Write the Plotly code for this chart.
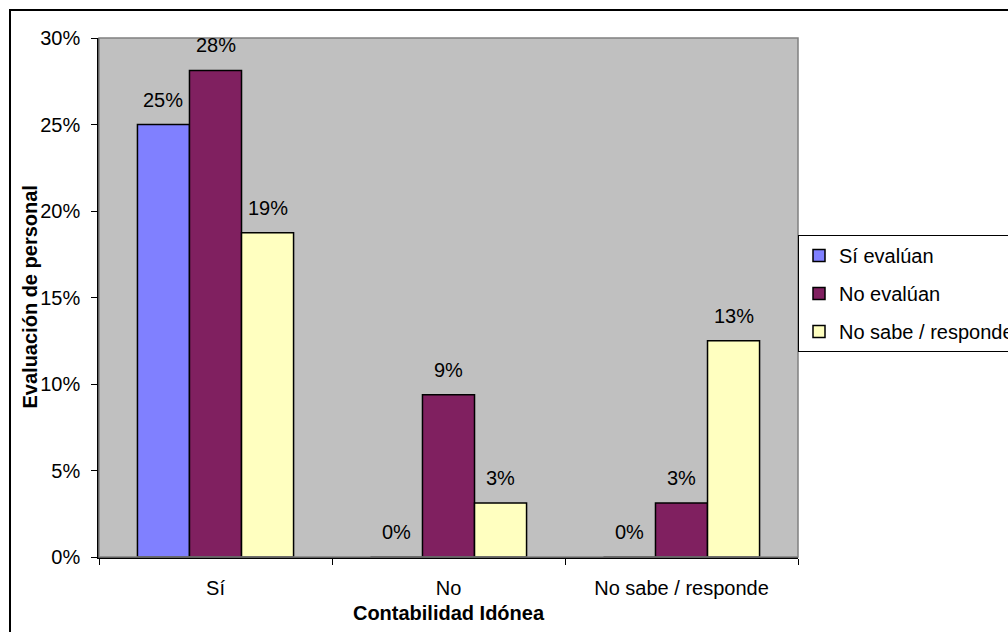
import plotly.graph_objects as go

# Survey shares per answer group
categories = ["Sí", "No", "No sabe / responde"]
series_names = ["Sí evalúan", "No evalúan", "No sabe / responde"]
si_evaluan = [0.25, 0.0, 0.0]
no_evaluan = [0.28125, 0.09375, 0.03125]
no_sabe = [0.1875, 0.03125, 0.125]
y_ticks = [0.0, 0.05, 0.10, 0.15, 0.20, 0.25, 0.30]
y_tick_labels = ["0%", "5%", "10%", "15%", "20%", "25%", "30%"]

series_values = [si_evaluan, no_evaluan, no_sabe]
colors = ["#8080FF", "#802060", "#FFFFC0"]

FONT = "Liberation Sans, Arial, sans-serif"
W, H = 1008, 632
M_L, M_R, M_T, M_B = 99, 210, 38, 75
BARGAP = 0.33

plot_w = W - M_L - M_R
plot_h = H - M_T - M_B


def pct_label(v):
    # percentage rounded half up, as spreadsheet labels do
    return f"{int(v * 100 + 0.5)}%"


fig = go.Figure()
for i, (name, vals, col) in enumerate(zip(series_names, series_values, colors)):
    fig.add_trace(go.Bar(
        name=name,
        x=categories,
        y=vals,
        marker=dict(color=col, line=dict(color="black", width=1.5)),
        legendgroup=f"g{i}",
    ))

# value labels sitting above each bar
cat_w = plot_w / len(categories)
bar_w = cat_w * (1 - BARGAP) / len(series_names)
annotations = []
for i, vals in enumerate(series_values):
    shift = (i - (len(series_names) - 1) / 2) * bar_w
    for c, v in zip(categories, vals):
        annotations.append(dict(
            x=c, y=v, xref="x", yref="y", text=pct_label(v),
            showarrow=False, xshift=shift, yshift=25,
            yanchor="middle", xanchor="center",
            font=dict(family=FONT, size=20, color="black"),
        ))

# y-axis title placed beside the tick labels
annotations.append(dict(
    text="<b>Evaluación de personal</b>", textangle=-90,
    xref="paper", yref="paper", x=(29 - M_L) / plot_w, y=0.5,
    xanchor="center", yanchor="middle", showarrow=False,
    font=dict(family=FONT, size=20, color="black"),
))

shapes = [
    # plot-area frame
    dict(type="rect", xref="paper", yref="paper", x0=0, y0=0, x1=1, y1=1,
         line=dict(color="#808080", width=1.5), layer="above"),
    # outer chart frame
    dict(type="rect", xref="paper", yref="paper",
         x0=(10 - M_L) / plot_w, x1=1.6,
         y0=-0.4, y1=(H - M_B - 10) / plot_h,
         line=dict(color="black", width=2)),
]

fig.update_layout(
    width=W, height=H,
    margin=dict(l=M_L, r=M_R, t=M_T, b=M_B, autoexpand=False),
    paper_bgcolor="white",
    plot_bgcolor="#C0C0C0",
    barmode="group",
    bargap=BARGAP,
    bargroupgap=0,
    font=dict(family=FONT, size=20, color="black"),
    showlegend=True,
    legend=dict(
        x=1.0, xanchor="left", y=(H - M_B - 235) / plot_h, yanchor="top",
        bgcolor="white", bordercolor="black", borderwidth=1,
        font=dict(family=FONT, size=20, color="black"),
        traceorder="grouped", tracegroupgap=9, itemwidth=30,
    ),
    annotations=annotations,
    shapes=shapes,
    xaxis=dict(
        showline=True, linecolor="black", linewidth=1.5,
        ticks="outside", tickson="boundaries", ticklen=6, tickcolor="black",
        tickfont=dict(family=FONT, size=20),
        ticklabelstandoff=12,
        showgrid=False, zeroline=False,
        title=dict(text="<b>Contabilidad Idónea</b>", standoff=8,
                   font=dict(family=FONT, size=20)),
    ),
    yaxis=dict(
        range=[0, 0.30],
        tickvals=y_ticks, ticktext=y_tick_labels,
        showline=True, linecolor="black", linewidth=1.5,
        ticks="outside", ticklen=6, tickcolor="black",
        tickfont=dict(family=FONT, size=20),
        ticklabelstandoff=7,
        showgrid=False, zeroline=False,
    ),
)

fig.write_html("out.html")
